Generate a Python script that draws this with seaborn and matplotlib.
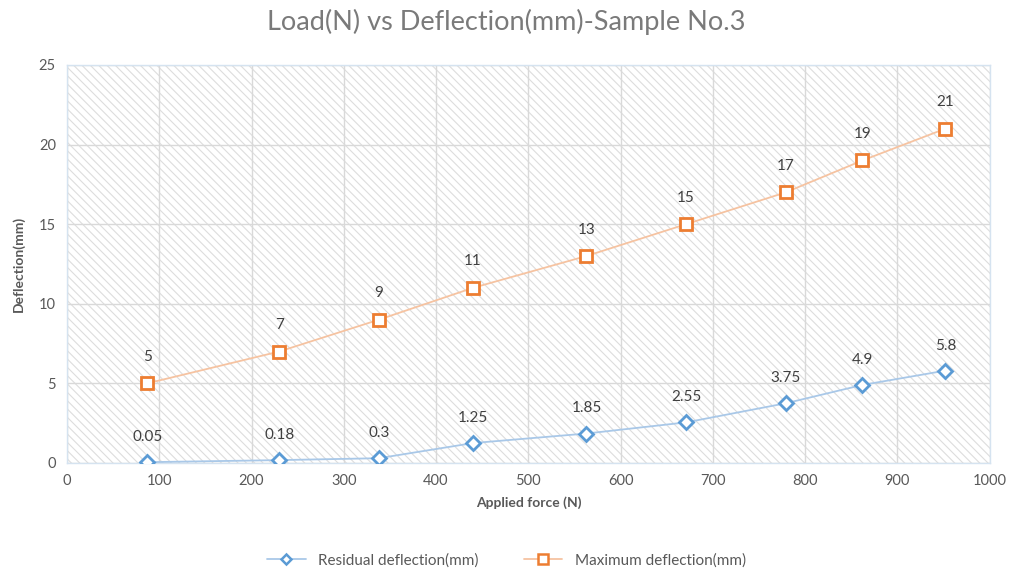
import matplotlib.pyplot as plt
from matplotlib.lines import Line2D
from matplotlib.patches import Rectangle
import numpy as np
import pandas as pd
import seaborn as sns

sns.set_theme(style="white")
plt.rcParams["font.family"] = ["Lato", "DejaVu Sans"]
plt.rcParams["hatch.color"] = "#DDDDDD"
plt.rcParams["hatch.linewidth"] = 0.8

applied_force = [87, 230, 338, 440, 563, 671, 779, 862, 952]
residual = [0.05, 0.18, 0.3, 1.25, 1.85, 2.55, 3.75, 4.9, 5.8]
maximum = [5, 7, 9, 11, 13, 15, 17, 19, 21]
residual_labels = ["0.05", "0.18", "0.3", "1.25", "1.85", "2.55", "3.75", "4.9", "5.8"]
maximum_labels = ["5", "7", "9", "11", "13", "15", "17", "19", "21"]

df = pd.DataFrame({"force": applied_force, "residual": residual, "maximum": maximum})

BLUE = "#5B9BD5"
BLUE_LINE = "#A9C8E8"
ORANGE = "#ED7D31"
ORANGE_LINE = "#F6C3A1"
TEXT = "#595959"

fig = plt.figure(figsize=(10.13, 5.72), dpi=100)
ax = fig.add_axes([0.0661, 0.1906, 0.9109, 0.6958])

# hatched plot area
ax.add_patch(Rectangle((0, 0), 1, 1, transform=ax.transAxes, facecolor="white",
                       hatch="\\\\\\\\", edgecolor="#DDDDDD", linewidth=0, zorder=0))

sns.lineplot(data=df, x="force", y="residual", ax=ax, color=BLUE_LINE, linewidth=1.3,
             marker="D", markersize=7, markerfacecolor="white", markeredgecolor=BLUE,
             markeredgewidth=2, zorder=3)
sns.lineplot(data=df, x="force", y="maximum", ax=ax, color=ORANGE_LINE, linewidth=1.3,
             marker="s", markersize=9, markerfacecolor="white", markeredgecolor=ORANGE,
             markeredgewidth=2, zorder=3)

for x, y, t in zip(applied_force, residual, residual_labels):
    ax.annotate(t, (x, y), xytext=(0, 13), textcoords="offset points",
                ha="center", va="bottom", fontsize=11, color="#404040")
for x, y, t in zip(applied_force, maximum, maximum_labels):
    ax.annotate(t, (x, y), xytext=(0, 14), textcoords="offset points",
                ha="center", va="bottom", fontsize=11, color="#404040")

ax.set_xlim(0, 1000)
ax.set_ylim(0, 25)
ax.set_xticks(np.arange(0, 1001, 100))
ax.set_yticks(np.arange(0, 26, 5))
ax.grid(True, color="#D9D9D9", linewidth=1, zorder=1)
ax.set_axisbelow(True)
for s in ax.spines.values():
    s.set_color("#D5E3F0")
    s.set_linewidth(1)
ax.tick_params(axis="both", length=0, labelsize=10.5, labelcolor=TEXT, pad=8)

ax.set_xlabel("Applied force (N)", fontsize=10, fontweight="bold", color=TEXT, labelpad=6)
ax.set_ylabel("Deflection(mm)", fontsize=10, fontweight="bold", color=TEXT, labelpad=10)

fig.suptitle("Load(N) vs Deflection(mm)-Sample No.3", x=0.5, y=0.985,
             fontsize=19.5, color="#7A7A7A")

handles = [
    Line2D([], [], color=BLUE_LINE, marker="D", markersize=5, markerfacecolor="white",
           markeredgecolor=BLUE, markeredgewidth=1.8, linewidth=1.3),
    Line2D([], [], color=ORANGE_LINE, marker="s", markersize=7, markerfacecolor="white",
           markeredgecolor=ORANGE, markeredgewidth=1.8, linewidth=1.3),
]
fig.legend(handles, ["Residual deflection(mm)", "Maximum deflection(mm)"],
           loc="center", bbox_to_anchor=(0.5, 0.02), ncol=2, frameon=False,
           fontsize=11, labelcolor=TEXT, columnspacing=3, handlelength=2.5)

fig.savefig("out.png", dpi=100)
